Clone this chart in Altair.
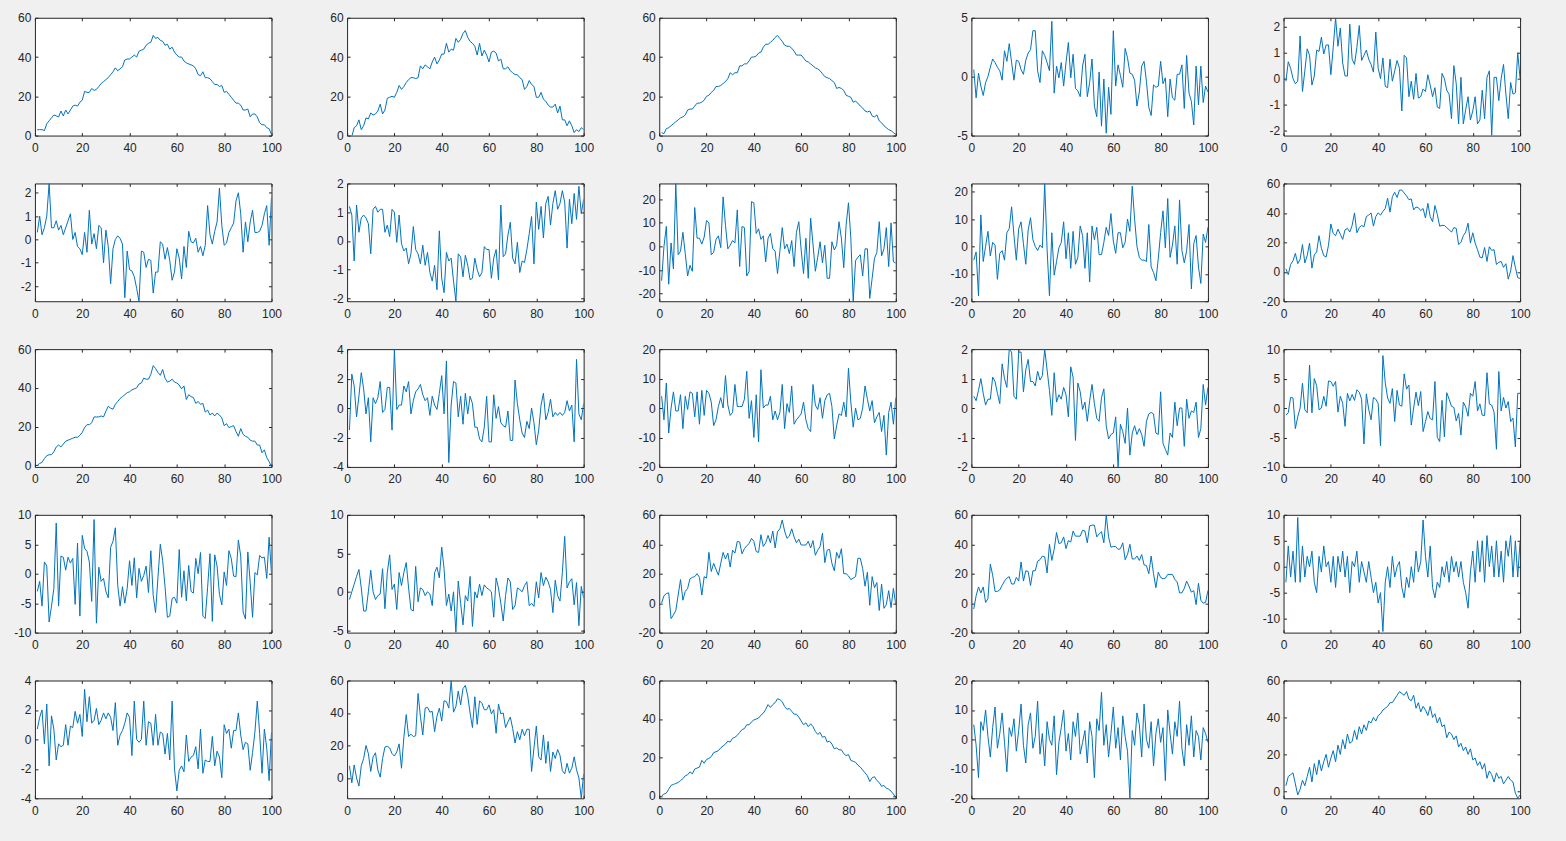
import altair as alt
import pandas as pd

X = list(range(1, 101))
XTICKS = [0, 20, 40, 60, 80, 100]

s01 = [3, 3, 3, 2.5, 6, 7.5, 9, 10.5, 10, 9.5,
       12.5, 10, 13, 11, 13, 15, 15.5, 15, 17, 18,
       22.5, 22, 22, 24, 23, 23.5, 25, 26.5, 27.5, 28.5,
       29.5, 31, 32.5, 34.5, 33, 34, 35, 38.5, 39, 39,
       40, 41, 40, 43, 43.5, 44, 46, 47, 47.5, 51,
       49.5, 50, 48.5, 48, 46, 46.5, 44, 45, 42.5, 41,
       40, 40, 38, 37, 36.5, 36, 35.5, 34, 31, 30.5,
       32.5, 29.5, 29.5, 29, 27.5, 26, 26, 25, 25.5, 22,
       22.5, 21, 19.5, 18, 16.5, 16.5, 15.5, 13, 13, 13.5,
       9.5, 11, 11, 9.5, 6.5, 5.5, 5.5, 4, 3.5, 0.5]
s02 = [0, -0.5, 4, 5, 8, 3, 5, 9, 8.5, 11.5,
       10.5, 11, 12.5, 16, 11, 13, 19, 19.5, 20, 19.5,
       22, 25.5, 23.5, 25, 27, 28.5, 29.5, 29.5, 29, 29.5,
       35.5, 34, 36, 35, 34, 37.5, 40, 36.5, 38.5, 41.5,
       41.5, 47, 42.5, 44, 43.5, 49.5, 47.5, 49, 52, 53.5,
       50, 48, 47, 45.5, 41, 47, 40.5, 43.5, 41, 37.5,
       42.5, 43, 42, 38, 39, 34, 34, 35, 33, 32,
       31, 31, 29.5, 28.5, 23.5, 25, 28, 26, 25, 19.5,
       19.5, 22, 18.5, 17.5, 15.5, 14.5, 14.5, 16, 11.5, 15,
       8, 8, 5, 7.5, 5, 1.5, 3, 2, 4, 3]
s03 = [1.5, 1, 3.5, 4, 5, 6, 7, 8, 9, 9.5,
       10.5, 13, 13.5, 13.5, 15, 16.5, 16.5, 17, 18, 20,
       20.5, 22, 23, 25, 25, 25.5, 26.5, 27.5, 29, 32,
       31, 32, 32, 35.5, 35.5, 36.5, 36.5, 38, 40, 40,
       40.5, 42, 42.5, 45, 46.5, 46.5, 47.5, 48.5, 50, 51,
       49.5, 48, 46, 45.5, 45.5, 44.5, 43, 41, 41, 41,
       39.5, 38, 37.5, 36.5, 35.5, 34.5, 34, 33, 31.5, 30,
       29.5, 29, 28, 27, 24, 24.5, 24, 23, 20.5, 20,
       19.5, 17, 17.5, 16.5, 15, 14, 12.5, 12, 12.5, 10,
       9.5, 10.5, 7.5, 6.5, 5, 4, 3, 2.5, 1.5, 0.5]
s04 = [0.6, -1.8, 0.3, -0.8, -1.6, -0.5, 0, 0.8, 1.5, 1.2,
       0.8, 0.5, -0.3, 2.2, 1.3, 2.8, 1.2, -0.3, 1.4, 1.3,
       0.6, 0.2, 1.4, 2, 2.3, 3.9, 3.9, 0.5, -0.5, 2.2,
       1.8, 1.2, 0.5, 4.7, -1.4, 0.9, -0.1, 1.2, -0.8, 1.2,
       2.9, -0.1, 1.9, -1, -1.2, -1.7, 0.9, 1.9, -1.7, -0.5,
       1.5, -2.5, -3.4, 0.4, -4.2, -0.2, -4.8, -0.9, -3.2, 3.9,
       -0.8, 1, 0.1, -0.9, 2.4, 1.6, 0.3, 0.2, -0.3, -2.5,
       -1.3, 0.9, 1.3, -0.4, -2.6, -3.3, -0.7, -0.9, -0.8, 1.3,
       -0.6, -0.1, -3.4, -0.2, -1.8, -2, 0.2, 0.2, 1, -2.7,
       1.8, -1.4, -2.1, -4.1, 0.9, -2.4, 0.9, -2.2, -0.8, -1.3]
s05 = [-0.1, 0.65, 0.4, 0, -0.2, -0.1, 1.65, -0.5, 0.3, 1.15,
       0.9, -0.25, 0.1, 1.1, 1.05, 1.6, 0.95, 1.3, 1.3, 0.15,
       1.2, 2.35, 1.25, 1.95, 0.6, 0.1, 0.1, 2.1, 0.75, 0.55,
       1.2, 2.05, 0.7, 0.9, 1.1, 0.75, 0.55, 0.25, 1.8, 0.4,
       0, 0.8, -0.3, -0.35, 0.75, -0.1, 0.3, 0.7, 0.4, -1.25,
       0.9, 0.8, -0.7, -0.1, -0.8, 0.2, -0.75, -0.7, -0.4, -0.5,
       0.15, -0.25, -0.7, -0.35, -1.1, -1.15, 0.2, 0, -0.45, -0.6,
       -1.55, 0.5, -0.2, -1.75, 0.05, -1.75, -1.2, -0.7, -1.6, -1.25,
       -0.7, -1.75, -1.6, -0.45, -1.55, 0.05, 0.3, -2.2, 0.05, 0.05,
       -0.85, 0, 0.55, -0.6, -1.55, -0.15, -0.6, -0.55, 1, 0]
s06 = [0.3, 1, 0.2, 0.5, 1, 2.4, 0.5, 0.5, 0.8, 0.4,
       0.6, 0.2, 0.5, 0.8, 1.1, 0, 0.3, -0.3, -0.4, -0.65,
       0.3, -0.55, 1.25, -0.2, 0.25, -0.4, 0.6, 0.5, -1, 0.4,
       -0.3, -1.9, -0.4, 0, 0.15, 0.05, -0.2, -2.5, -0.5, -1.3,
       -1.35, -1.6, -2.1, -2.65, -0.5, -0.55, -1.2, -0.85, -0.9, -2.3,
       -1.4, -1.4, -0.1, -0.2, -0.85, -0.35, -0.9, -1.75, -1.4, -0.4,
       -0.8, -1.7, -0.3, -1.2, 0.35, -0.1, -0.15, 0.05, -0.55, -0.3,
       -0.7, -0.25, 1.45, 0.2, -0.2, 0.35, 0.75, 2.2, 0.6, -0.25,
       -0.15, 0.3, 0.5, 0.7, 1.65, 2, 1.1, -0.55, 0.75, -0.1,
       0.75, 1.25, 0.3, 0.3, 0.35, 0.6, 1.1, 1.45, -0.25, 1.8]
s07 = [1.2, 0.9, -0.7, 1.25, 0.3, 0.8, 0.9, 0.8, 0.6, -0.45,
       1.1, 1.2, 1, 1.1, 1.1, 0.3, 0.55, 0.15, 1.1, 1,
       -0.05, 0.9, -0.1, -0.35, -0.25, -0.8, -0.45, 0.5, -0.3, -0.45,
       -0.8, -0.15, -0.85, -0.4, -1.1, -1.4, -0.85, -1.7, 0.35, -1.3,
       -1.8, -0.4, -0.7, -0.6, -1.4, -2.1, -0.45, -0.55, -1.25, -0.5,
       -0.85, -1.35, -1.3, -0.6, -1, -1.25, -1.1, -0.2, -0.3, -0.3,
       -1.3, -0.6, -0.3, -1.35, 1.25, -0.55, -0.45, 0.2, 0.65, -0.6,
       -0.8, -0.05, -1.1, -0.7, -0.75, -0.3, 0.25, 0.85, -0.8, 1.35,
       0.4, 1.2, 0.1, 1.3, 1.55, 0.55, 1.3, 1.75, 1.1, 1.3,
       1.75, 1.35, -0.25, 1.45, 0.6, 1.65, 0.75, 1.9, 0.95, 1.45]
s08 = [-14.5, 0, 8.5, -16, 1.5, -9.5, 26.7, -3.5, -2, 6,
       -3, -12.5, -8, -10.5, 16.5, 3.5, 3.5, 1, 4, 11,
       10, -3.5, -2.5, 3, 4.5, -0.5, 21, 9, -1, 0.5,
       2.5, 1.5, 15.5, -8.5, 8.5, 8, -12.5, -10.5, 19, 18.5,
       5.5, 7.5, 3, 4.5, -6.5, 3.5, 5.5, -1, -2, -11.5,
       -2, 8, -1, 1, -3, 2.5, -8.5, 6, 10.5, -1.5,
       -11.5, 3.5, -13.5, 12, 1, -10.5, -4.5, 2, -7, 0.5,
       -13.5, -13.5, 2, -1.5, 0.5, 10.5, 3.5, -9, 9, 18.5,
       3.5, -23.2, -6, -4.5, -3.5, -12.5, -1, -1, -22, -13.5,
       -5, -2.5, 10.5, -4, -1, 8, -8.5, 10, -6.5, -7]
s09 = [-5, -2, -18, 11.5, -5.5, 0, 5.5, -3.5, 1.5, 0.5,
       -12, -2.5, -1.5, -5, 5, 6.5, 14.5, 4, -5, 6.5,
       9, 1, -6.5, 6, 10.5, 2.5, 0, -1.5, 0.5, -0.5,
       23, -1, -18, 5, -10.5, -5.5, -0.5, 1.5, 9, -4.5,
       5, -8, 5.5, -6.5, -4, 7.5, 4, -8, 5, -13,
       7.5, 2.5, 7, -3, -3, 1.5, 7, 4, 12, 2,
       -2.5, 5, 5, -0.5, 1.5, 10, 5.5, 22, 10, 0,
       -4, -5, -5, -5.5, 8, -7.5, -9.5, -12.5, -4.5, 5,
       13, -0.5, 17.5, -4, 0.5, 7.5, -6.5, 17, -1.5, -6,
       -1.5, 8, -15.5, 1, 4, -7.5, -13.5, 4.5, 1.5, 7]
s10 = [2, -2, 5, 7.5, 12.5, 5.5, 8.5, 18.5, 6, 11,
       19.5, 2.5, 11.5, 13.5, 24.5, 16, 11, 10, 18, 32.5,
       26, 24.5, 29, 25.5, 22, 28.5, 29.5, 27, 31.5, 40,
       26.5, 30, 31.5, 30.5, 37.5, 38.5, 40, 31, 37.5, 40,
       38.5, 41, 43, 50, 40.5, 51, 54, 50.5, 55.5, 55.5,
       53.5, 51.5, 49, 49.5, 42, 44, 43.5, 41.5, 43, 36.5,
       46.5, 37.5, 34, 45, 39, 31, 31.5, 31.5, 30, 28.5,
       27, 30, 29.5, 18.5, 20, 24.5, 27, 33, 19.5, 26.5,
       19.5, 15, 10, 9.5, 16.5, 7, 17, 14.5, 15, 5,
       6.5, 7, 3, 5.5, -5, 0.5, 11, 3, -4, -4.5]
s11 = [0, 1, 1.5, 3.5, 5, 5.5, 5.5, 7, 9.5, 10.5,
       9.5, 11, 12.5, 13, 13.5, 14, 14.5, 14.5, 15.5, 17,
       19.5, 21, 21, 22, 25, 25, 25, 25.5, 25, 28,
       30.5, 29.5, 29, 31.5, 33, 34.5, 35.5, 36.5, 37.5, 38,
       39, 39.5, 40, 42, 42.5, 45, 44.5, 44.5, 47, 51.5,
       50, 48, 46.5, 49.5, 45, 43, 43.5, 44.5, 43, 42.5,
       41.5, 39.5, 41, 34, 36.5, 35.5, 35, 32, 33, 31.5,
       32, 27.5, 28.5, 26, 27, 25.5, 27, 26, 24.5, 20.5,
       21.5, 19.5, 20, 20.5, 17.5, 15, 19, 16, 15, 14.5,
       13, 12.5, 12.5, 10.5, 10.5, 6.5, 8, 4, 2, -0.8]
s12 = [-1.5, 2.3, 1.5, -0.6, 0.8, 2.4, 1.3, -0.4, 0.7, -2.3,
       0.7, 0.3, 0.7, 1.8, -0.3, -0.1, 1.4, 1.4, -1.5, 4,
       -0.1, 0.2, 0.2, 1.5, 1.1, 1.8, -0.4, 0.5, 1.1, 1.3,
       1.6, 0.9, 0.5, 0.7, -0.5, 0.8, 0.2, -0.1, 1, 2.2,
       -0.4, 3.2, -3.7, 0.2, 1.8, 1.7, -0.6, 0.8, -1.1, 1,
       -0.4, 0.8, 0.3, -1.3, -1.3, -2.1, -2.3, -1.3, 0.8, -2.3,
       -2.3, 0.9, -0.7, 0.1, -1, -1.2, -1.3, -0.2, -2.2, -2.2,
       1.9, 0.3, -0.8, -1.7, -2, -0.9, -1.4, 0, -1, -2.5,
       -1.5, 0.2, 1, -0.8, -0.3, 0.6, -0.6, -0.3, -0.5, -0.3,
       -0.5, -0.3, 0.5, -0.2, 0.2, -2.3, 3.3, -0.4, -0.8, 0.3]
s13 = [4, -4, 8.5, -8.5, 0, 5.5, -1, -1, 4.5, -7,
       4, -0.5, 5.5, 5, -3, 5.5, -5.5, 6, -2.5, 6,
       5, 2, -6, -4, 0.5, 3.5, 0, 11, 1, -2.5,
       -1.5, 8, 0.5, 0.5, 0.5, 3, 12.5, -3.5, 2.5, -10,
       4.5, -11.5, 13, 0, 1, 1, 4, -4, -1, -4,
       -1.5, 8, -7, 1.5, -1.5, 7.5, -5.5, -4, -3, -2,
       2, -4, -7, -8, 8, 1, -0.5, 3.5, -3.5, 2.5,
       4.5, 5, 0.5, -10.5, -6, -2, -2.5, 2, -3, 13.5,
       2, -6.5, 0, -4, -3.5, 0, 7.5, 3, -1, 2.5,
       -5, -3, -1.5, -8, -2.5, -16, -1.5, 2, -5.5, 3.5]
s14 = [0.4, 0.25, 0.6, 1, 0.5, 0.1, 0.3, 0.3, 1.05, 0.9,
       0.5, 0.15, 1.5, 1, 0.7, 2, 1.9, 0.4, 0.3, 1.9,
       1.9, 0.55, 1.3, 1.65, 0.9, 0.9, 0.75, 1.25, 0.95, 1.1,
       2, 1.3, 0.6, -0.25, 1.2, 0.2, 0.45, 0.3, 0.7, 0.45,
       -0.3, 1.4, 1.05, -1.1, 0.85, 0.55, -0.05, 0.2, -0.45, 0.25,
       0.8, 0.15, -0.35, -0.45, 0.35, 0.65, -0.6, -1.05, -0.9, -0.85,
       -0.3, -2, -0.55, -0.8, -1.2, 0, -1.6, -0.85, -0.6, -0.9,
       -0.7, -0.9, -1.3, -0.45, -0.2, -0.15, -0.2, -0.85, -0.9, 0.55,
       -1.2, -1.4, -1.6, -0.85, -1, 0.2, -0.6, 0, 0, -1.3,
       0.3, -0.35, -0.1, -0.15, 0.2, -1, -0.7, 0.8, 0.1, 0.7]
s15 = [-1.2, -0.8, 1.8, 1.7, -3.5, -1.5, 0, 4.2, -0.3, -0.8,
       7.3, -0.8, 5, 3.8, -0.3, 0, 2, 0.3, 4.6, 4.5,
       3.7, 4.5, -0.7, 2, 0.8, -3.1, 2.5, 1.2, 2.3, 1.3,
       3.1, 2.7, 1.5, -6.1, 2.4, -0.2, -2, 1.8, 1.5, 0.8,
       -6.4, 8.9, 4.3, 1.7, 0.8, 3.3, -2.3, 3, 0.5, 0.3,
       5.8, 3.2, 3.9, -2.9, 0, 2.7, 0.4, 2.8, -4, -2.3,
       -0.6, -1.8, -2, 4.5, -5, -5.7, 1.3, -4.9, 2.6, 1.5,
       0.3, 0.1, -2.2, -0.9, -4.6, 1, 0.2, -1.4, 2.5, 2,
       4.5, -0.5, 0.7, -1.2, -1.3, 6, 0.7, 0.5, -0.7, -7,
       6.2, -0.5, 1.8, 0, 1.1, -2.3, -1.7, -6.6, 2.5, 2.5]
s16 = [-3, -1.3, -5.5, 2, 1.3, -8.2, -5.5, -2.5, 8.6, -5.5,
       3, 2.8, 0.6, 2.8, 1.8, 2.6, -5.2, 5.2, -7.2, 6.5,
       4.3, 3.8, 2, -4.7, 9.2, -8.4, 1.1, -1.3, -0.8, -3,
       -4.1, 4.5, 5.5, 7.8, -2, -5.5, -2.2, -5, -2.5, 2.2,
       -2, 2.7, -4.1, 0.9, -1.3, -0.3, 1.3, -3.2, 3.9, -3.7,
       -6.6, -0.7, 5, 2.2, -2.2, -7.4, -7.2, -4.2, -4, -5,
       4.1, -4, 0.5, -4.6, 1.4, -3, -3.3, 2.6, 0, 3.6,
       -7.2, -7.6, -2.3, 3.4, -8.1, 3.2, 1.3, -3.5, -5.3, 0.3,
       -2, 3.9, 2.6, -0.4, -0.5, 5.7, 3, -6.5, -7.7, 3.7,
       -1.5, -7.4, 0.2, -0.2, 3.1, 2.7, 2.8, -0.8, 6.2, 0]
s17 = [-1, 0, 1, 2, 2.9, 0.5, -2.5, -2.5, 0, 2.8,
       0, -1, -0.5, -0.3, 3, -2.2, 2.5, 4.8, 0.3, 1,
       -2.3, 2.5, 0.8, 2.5, 3.8, 0.5, -2.3, -2.5, 3.3, -1.3,
       0.5, 0.3, -0.5, 0, -0.3, -1.8, 2.5, 3.2, 1.8, 5.8,
       3, -1.8, -0.3, -2.5, 0, -5.3, 1.4, -1.5, -4.3, -0.5,
       -1.2, 2, -4.5, 0, -0.8, 1, -0.5, 0.9, 0.5, 0.3,
       0, -3.3, 1.8, 0.5, -1.5, -3.8, -0.5, 1.8, 1.3, -2.3,
       -1.8, 0.5, 0.3, 0, 0.8, 1.3, -1.8, -1.5, -1.9, 1.3,
       -0.8, 2.5, 0.8, 1.9, 1.3, 0.3, -2.7, 1.5, -0.5, -1.2,
       2.5, 7.2, 0.5, 1.3, 1.7, -1.7, 1.2, -4.4, 0.7, -0.8]
s18 = [0, 5, 6.5, 7, -10.5, -8, -5, 5.5, 16, 2,
       8, 10, 16.5, 17.5, 18, 20, 17.5, 5.5, 18, 17,
       34.5, 21.5, 27, 23, 19, 27, 34.5, 30, 34, 24.5,
       36, 34, 42, 41.5, 33.5, 37, 39, 40.5, 44, 42,
       35, 34.5, 46.5, 38.5, 41, 46, 41, 49, 37.5, 48.5,
       50.5, 56.5, 49, 44, 45.5, 50.5, 45, 41, 43.5, 39.5,
       39.5, 39.5, 42, 37.5, 42.5, 32.5, 36, 38.5, 47.5, 27.5,
       36, 36.5, 27, 22, 34.5, 30.5, 37, 20, 20, 18.5,
       16, 17, 18, 30.5, 30.5, 23.5, 11.5, 21, -1.5, 18,
       10.5, 14, -5, 13, -3.5, -1, 8.5, -3, 10, -1]
s19 = [-4, 5, 11, 7, 11, 0.5, 3, 26.5, 19, 8,
       8, 9, 12, 15, 17, 18, 13, 13, 17.5, 15,
       28, 15, 22, 21.5, 12, 22, 22, 28.5, 29.5, 32,
       31.5, 20.5, 40, 29, 36.5, 48, 40.5, 41, 45, 37,
       42.5, 41.5, 49, 45.5, 45.5, 45.5, 49.5, 49, 41, 52.5,
       53, 53, 45, 47, 48.5, 41, 60, 45, 38, 38.5,
       38.5, 36.5, 37, 41, 29.5, 33, 40, 30, 30, 32,
       29, 33, 26, 25.5, 20, 32, 20, 10.5, 21, 17.5,
       16.5, 17, 19.5, 19.5, 19.5, 16, 14.5, 7, 7, 10,
       15, 11.5, 7.5, 8.5, -1, 13.5, 2, 0, 0.5, 8.5]
s20 = [-3, 4, -2, 3, -3, 9.5, -3, 4, -2, 2,
       0, 3, -3, -5, 2, -1, 4, 0, 1, -3,
       2, -4, 2, -1, 3, -2, 2, -5, 1, 0,
       3, -3, 1, -1, -3, 1, -2, -5, -3, -7,
       -5, -12.5, -3, 0, -4, 2, -2, 0, 1, -4,
       -6, -2, -4, 0, -3, 3, -1, 1, 9, 2,
       -2, 4, -4, -6, -3, -4, 0, -2, 1, -3,
       2, -1, 1, -2, 1, -3, -5, -8, -1, 3,
       -3, 5, -1, 5, -3, 6, 0, 4, -2, 5,
       -2, 3, -3, 5, 2, 6, -2, 5, -2, 5]
s21 = [0.7, 1.5, 2, -0.3, 2.4, -1.8, 1.6, 0.7, -1.4, -0.3,
       -0.5, -0.4, 1, -0.4, 0.9, 0.8, 1.9, 1.1, 1.7, 0.2,
       3.4, 1.2, 2.9, 1.1, 1.3, 2.1, 1, 1.3, 1.8, 1.4,
       1.8, 1.5, 0.6, 2.5, -0.4, 0.3, 0.6, 1.1, 1.8, 1.5,
       -1.1, 2.6, 0, -0.2, 0, 2.6, -0.4, 1.2, 1.1, -0.4,
       1.7, -0.4, 0.5, 0.4, -1, 0.4, -1.4, 2.6, -2, -3.5,
       -2.1, -1.8, -2.2, 0.3, -1.5, -1.2, -1.1, -0.5, -2, 0.7,
       -2.3, -1.4, -1.5, -1.5, 0.2, -1.8, -0.8, -1.2, -2.6, 1,
       0.4, 0.7, -0.6, 0.6, 0.6, 1.8, 0.3, -0.7, -0.2, -0.3,
       -2.1, -0.9, 0.5, 2.6, 0.4, -2.3, 0.7, -0.6, -2.8, 0.5]
s22 = [7.5, -3, 8, 0, -5, 7.5, 12, 20, 15, 4,
       13, 15.5, 5, 0.5, 12, 19, 19.5, 18.5, 15, 13.5,
       16, 21, 6, 25, 39, 25.5, 27, 25.5, 26, 52,
       38, 26.5, 43, 43.5, 40.5, 41, 28.5, 38, 43, 35,
       47.5, 47, 43, 60, 40.5, 44, 53.5, 45, 55, 57,
       50.5, 40, 31, 50, 33, 47.5, 46, 42, 42, 45,
       39.5, 42, 27.5, 45.5, 39.5, 40, 31, 34.5, 37.5, 30.5,
       21.5, 28.5, 23.5, 30, 26, 30, 30, 4, 18.5, 32,
       13, 11, 26.5, 9, 22.5, 4, 16, 12, 17.5, 14,
       4.5, 2.5, 9, 3, 6, 13, 5, 0, -12.5, 2.5]
s23 = [0, 1, 1.5, 3.5, 5.5, 6, 6.5, 7, 8, 9,
       10.5, 11, 12.5, 11.5, 14, 14.5, 15, 18.5, 17, 19,
       19.5, 20.5, 22.5, 23, 23.5, 25, 26, 27, 28.5, 28,
       30, 30.5, 31.5, 33, 34.5, 35, 37, 37, 38.5, 39.5,
       40, 40.5, 42, 43, 45, 47.5, 46, 47.5, 48.5, 50.5,
       50, 49, 46.5, 45, 45.5, 44, 42.5, 42.5, 41, 39,
       37, 38, 36, 37.5, 36, 33.5, 32, 33, 30.5, 31,
       28, 28.5, 27, 24.5, 25, 24, 24, 22, 21, 21.5,
       18.5, 18, 17.5, 16, 15, 13.5, 12, 10.5, 7.5, 9.5,
       10, 8, 7, 5, 5.5, 4, 3.5, 2.5, 1, -1]
s24 = [5, -2, -13, 6, 3, 10, 1, -6, 4, 11,
       -3, 2, 9, -1, -11, 4, 1, 7, -4, 3,
       12, -2, -8, 5, 9, -3, 1, 13, -5, 2,
       -9, 6, 0, -2, 8, -12, -1, 4, 10, -4,
       2, -7, 6, 1, 9, -5, -1, 3, -8, 6,
       1, -13, 7, 3, 16, -2, 5, -6, 2, 11,
       -3, 4, -7, 8, 1, -4, -20, 3, -2, 9,
       5, -6, 12, 0, -3, 6, -9, 2, 7, -1,
       4, -14, 10, 2, -5, 6, 1, 13, -3, -9,
       5, -2, 8, -6, 3, 1, -7, 4, 2, -1]
s25 = [3, 8, 9, 10, 4, -2, 1, 6, 3, 8,
       13, 5, 15, 9, 17, 11, 16, 20, 13, 18,
       22, 16, 25, 20, 28, 23, 31, 26, 27, 33,
       28, 35, 31, 36, 33, 38, 37, 40, 38, 41,
       42, 44, 45, 46, 48, 48, 50, 52, 54, 53,
       52, 54, 50, 49, 52, 45, 48, 43, 46, 44,
       41, 46, 40, 42, 37, 40, 35, 36, 29, 32,
       31, 28, 30, 24, 26, 22, 24, 20, 23, 17,
       18, 14, 16, 12, 15, 7, 11, 9, 5, 10,
       7, 8, 4, 6, 8, 6, 5, -1, -3.8, -2]

SERIES = [s01, s02, s03, s04, s05,
          s06, s07, s08, s09, s10,
          s11, s12, s13, s14, s15,
          s16, s17, s18, s19, s20,
          s21, s22, s23, s24, s25]

YDOM = [[0, 60], [0, 60], [0, 60], [-5, 5], [-2.2, 2.35],
        [-2.65, 2.4], [-2.1, 2], [-23.2, 26.7], [-20, 23], [-20, 60],
        [-0.8, 60], [-4, 4], [-20, 20], [-2, 2], [-10, 10],
        [-10, 10], [-5.3, 10], [-20, 60], [-20, 60], [-12.7, 10],
        [-4, 4], [-12.5, 60], [-1.2, 60], [-20, 20], [-3.8, 60]]

YTICKS = [[0, 20, 40, 60], [0, 20, 40, 60], [0, 20, 40, 60], [-5, 0, 5], [-2, -1, 0, 1, 2],
          [-2, -1, 0, 1, 2], [-2, -1, 0, 1, 2], [-20, -10, 0, 10, 20], [-20, -10, 0, 10, 20], [-20, 0, 20, 40, 60],
          [0, 20, 40, 60], [-4, -2, 0, 2, 4], [-20, -10, 0, 10, 20], [-2, -1, 0, 1, 2], [-10, -5, 0, 5, 10],
          [-10, -5, 0, 5, 10], [-5, 0, 5, 10], [-20, 0, 20, 40, 60], [-20, 0, 20, 40, 60], [-10, -5, 0, 5, 10],
          [-4, -2, 0, 2, 4], [0, 20, 40, 60], [0, 20, 40, 60], [-20, -10, 0, 10, 20], [0, 20, 40, 60]]

INK = "#262626"
LINE = "#0072BD"
FONT = "Liberation Sans"


def panel(vals, dom, ticks):
    df = pd.DataFrame({"x": X[:len(vals)], "y": vals})
    xs = alt.Scale(domain=[0, 100], nice=False, zero=False)
    ys = alt.Scale(domain=dom, nice=False, zero=False)
    common = dict(domain=False, grid=False, title=None, tickSize=3, offset=-3,
                  tickColor=INK, tickWidth=1, labelFlush=False, labelOverlap=False,
                  labelFont=FONT, labelFontSize=12, labelColor=INK,
                  labelExpr="'' + datum.value")
    line = alt.Chart(df).mark_line(color=LINE, strokeWidth=1, clip=True).encode(
        x=alt.X("x:Q", scale=xs, axis=alt.Axis(orient="bottom", values=XTICKS, labelPadding=7, **common)),
        y=alt.Y("y:Q", scale=ys, axis=alt.Axis(orient="left", values=ticks, labelPadding=4, **common)),
    )
    mirror = alt.Chart(df).mark_line(opacity=0, clip=True).encode(
        x=alt.X("x:Q", scale=xs, axis=alt.Axis(orient="top", values=XTICKS, labels=False, **common)),
        y=alt.Y("y:Q", scale=ys, axis=alt.Axis(orient="right", values=ticks, labels=False, **common)),
    )
    return alt.layer(line, mirror).resolve_axis(x="independent", y="independent").properties(width=237, height=118)


panels = [panel(s, d, t) for s, d, t in zip(SERIES, YDOM, YTICKS)]

chart = alt.concat(
    *panels, columns=5, spacing={"row": 48, "column": 75.75}, bounds="flush"
).properties(
    padding={"left": 13, "top": 10, "right": 35, "bottom": 26},
    background="#f0f0f0",
).configure_view(
    stroke=INK, strokeWidth=1, fill="white"
)

chart.save("out.html", embed_options={"renderer": "svg", "actions": False})
